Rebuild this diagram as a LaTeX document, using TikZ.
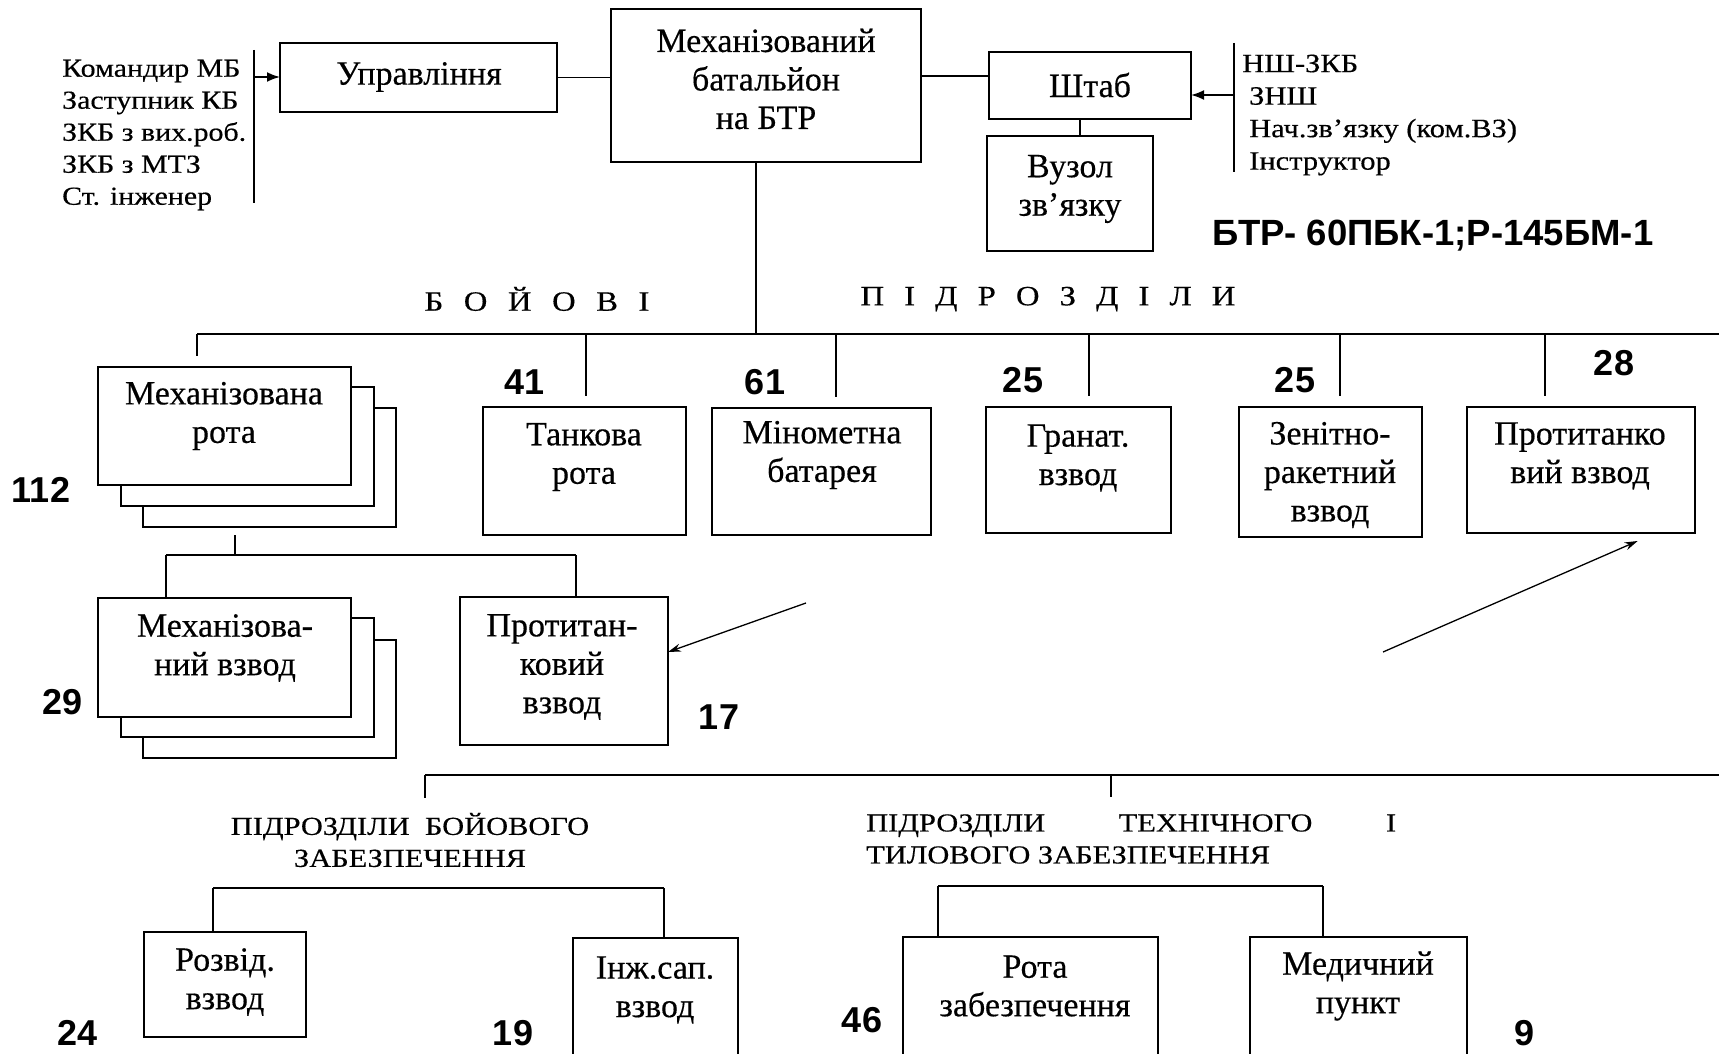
\documentclass[tikz,border=0pt]{standalone}
\usepackage{fontspec}
\setmainfont{Liberation Serif}[FakeBold=0.4]
\newfontfamily\listfont{Liberation Serif}[FakeStretch=1.15,FakeBold=0.4]
\newfontfamily\capsfont{Liberation Serif}[FakeStretch=1.17,FakeBold=0.3]
\newfontfamily\numfont{Liberation Sans}
\usetikzlibrary{arrows.meta,calc}
\newcommand\boxnode[5]{\node[box, anchor=north west, minimum width={#4-#2}, minimum height={#5-#3}] (#1) at (#2,#3) {};}
\begin{document}
\begin{tikzpicture}[x=1pt,y=-1pt,
  box/.style={draw, line width=2pt, fill=white, inner sep=0pt, outer sep=0pt},
  txt/.style={align=center, inner sep=0pt, font=\fontsize{34}{38.5}\selectfont},
  listtxt/.style={align=left, inner sep=0pt, font=\listfont\fontsize{26}{32}\selectfont},
  rlisttxt/.style={align=left, inner sep=0pt, font=\listfont\fontsize{26.5}{32.5}\selectfont},
  capstxt/.style={align=center, inner sep=0pt, font=\capsfont\fontsize{26}{32}\selectfont},
  spacedtxt/.style={inner sep=0pt, font=\capsfont\fontsize{28}{32}\selectfont},
  num/.style={inner sep=0pt, font=\numfont\bfseries\fontsize{36}{40}\selectfont},
  big/.style={inner sep=0pt, font=\numfont\bfseries\fontsize{36.5}{40}\selectfont},
  conn/.style={line width=1.8pt},
  drop/.style={conn, shorten >=11pt},
  arr/.style={line width=1.8pt, -{Latex[length=13pt,width=10pt]}},
  thinarr/.style={line width=1.3pt, -{Stealth[length=13pt,width=8pt]}}
]
\useasboundingbox (0,0) rectangle (1719,1054);
\fill[white] (0,0) rectangle (1719,1054);
\clip (0,0) rectangle (1719,1054);

% ---------- top ----------
\node[listtxt, anchor=west] (cmdlist) at (62,135) {Командир МБ\\Заступник КБ\\ЗКБ з вих.роб.\\ЗКБ з МТЗ\\Ст. інженер};
\coordinate (lbT) at (254,50); \coordinate (lbB) at (254,203); \coordinate (lbA) at (254,77);
\draw[conn] (lbT) -- (lbB);
\boxnode{upr}{280}{43}{557}{112}
\node[txt] (uprT) at (419,77) {Управління};
\draw[arr] (lbA) -- (lbA -| upr.west);

\boxnode{main}{611}{9}{921}{162}
\node[txt] (mainT) at (766,79) {Механізований\\батальйон\\на БТР};
\draw[conn] (upr.east) -- (upr.east -| main.west);

\boxnode{shtab}{989}{52}{1191}{119}
\node[txt] (shtabT) at (1090,85) {Штаб};
\coordinate (msy) at (0,76);
\draw[conn] (main.east |- msy) -- (shtab.west |- msy);

\boxnode{vuzol}{987}{136}{1153}{251}
\node[txt] (vuzolT) at (1070,189) {Вузол\\зв’язку};
\draw[conn] (shtab.south -| 1080,0) -- (vuzol.north -| 1080,0);

\coordinate (rbT) at (1234,43); \coordinate (rbB) at (1234,172); \coordinate (rbA) at (1234,95);
\draw[conn] (rbT) -- (rbB);
\draw[arr] (rbA) -- (rbA -| shtab.east);
\node[rlisttxt, anchor=west] (shlist) at (1249,115) {\hspace*{-7pt}НШ-ЗКБ\\ЗНШ\\Нач.зв’язку (ком.ВЗ)\\Інструктор};
\node[big] (btr) at (1433,236) {БТР- 60ПБК-1;Р-145БМ-1};

% ---------- combat units ----------
\coordinate (b1M) at (756,334);
\coordinate (b1L) at (197,334); \coordinate (b1R) at (1719,334);
\draw[conn] (main.south -| b1M) -- (b1M);
\draw[conn] (b1L) -- (b1R);
\node[spacedtxt] (boyovi) at (537,299) {\hbox to 225pt{Б\hfill О\hfill Й\hfill О\hfill В\hfill І}};
\node[spacedtxt] (pidr) at (1048,299) {\hbox to 375pt{П\hfill І\hfill Д\hfill Р\hfill О\hfill З\hfill Д\hfill І\hfill Л\hfill И}};

\boxnode{mrC}{143}{408}{396}{527}
\boxnode{mrB}{121}{387}{374}{506}
\boxnode{mrF}{98}{367}{351}{485}
\node[txt] (mrT) at (224,416) {Механізована\\рота};
\draw[drop] (b1L) -- (b1L |- mrF.north);
\node[num] (n112) at (41,490) {112};

\boxnode{tank}{483}{407}{686}{535}
\node[txt] (tankT) at (584,457) {Танкова\\рота};
\coordinate (d2) at (586,334);
\draw[drop] (d2) -- (d2 |- tank.north);
\node[num] (n41) at (525,382) {41};

\boxnode{mino}{712}{408}{931}{535}
\node[txt] (minoT) at (822,455) {Мінометна\\батарея};
\coordinate (d3) at (836,334);
\draw[drop] (d3) -- (d3 |- mino.north);
\node[num] (n61) at (765,382) {61};

\boxnode{gran}{986}{407}{1171}{533}
\node[txt] (granT) at (1078,458) {Гранат.\\взвод};
\coordinate (d4) at (1089,334);
\draw[drop] (d4) -- (d4 |- gran.north);
\node[num] (n25a) at (1023,380) {25};

\boxnode{zen}{1239}{407}{1422}{537}
\node[txt] (zenT) at (1330,475) {Зенітно-\\ракетний\\взвод};
\coordinate (d5) at (1340,334);
\draw[drop] (d5) -- (d5 |- zen.north);
\node[num] (n25b) at (1295,380) {25};

\boxnode{ptv}{1467}{407}{1695}{533}
\node[txt] (ptvT) at (1580,456) {Протитанко\\вий взвод};
\coordinate (d6) at (1545,334);
\draw[drop] (d6) -- (d6 |- ptv.north);
\node[num] (n28) at (1614,363) {28};

% ---------- platoons of the company ----------
\coordinate (br1M) at (235,555); \coordinate (br1L) at (166,555); \coordinate (br1R) at (576,555);
\draw[conn, shorten <=8pt] (mrC.south -| br1M) -- (br1M);
\draw[conn] (br1L) -- (br1R);
\boxnode{mvC}{143}{640}{396}{758}
\boxnode{mvB}{121}{618}{374}{737}
\boxnode{mvF}{98}{598}{351}{717}
\node[txt] (mvT) at (225,648) {Механізова-\\ний взвод};
\draw[conn] (br1L) -- (br1L |- mvF.north);
\boxnode{ptl}{460}{597}{668}{745}
\node[txt] (ptlT) at (562,667) {Протитан-\\ковий\\взвод};
\draw[conn] (br1R) -- (br1R |- ptl.north);
\node[num] (n29) at (63,702) {29};
\node[num] (n17) at (719,717) {17};
\coordinate (a1s) at (806,603);
\draw[thinarr] (a1s) -- (ptl.east |- 0,652);
\coordinate (a2s) at (1383,652);
\draw[thinarr, shorten >=20pt] (a2s) -- (ptv.south -| 1656,0);

% ---------- support ----------
\coordinate (b2L) at (425,775); \coordinate (b2R) at (1719,775);
\coordinate (t1) at (425,798); \coordinate (t2a) at (1111,775); \coordinate (t2b) at (1111,797);
\draw[conn] (b2L) -- (b2R);
\draw[conn] (b2L) -- (t1);
\draw[conn] (t2a) -- (t2b);
\node[capstxt] (lbz) at (410,840) {ПІДРОЗДІЛИ\ \ БОЙОВОГО\\ЗАБЕЗПЕЧЕННЯ};
\node[capstxt, align=left, anchor=west] (ltt) at (866,839) {\hbox to 530pt{ПІДРОЗДІЛИ\hfill ТЕХНІЧНОГО\hfill І}\\ТИЛОВОГО ЗАБЕЗПЕЧЕННЯ};

\coordinate (br3L) at (213,888); \coordinate (br3R) at (664,888);
\draw[conn] (br3L) -- (br3R);
\boxnode{rozv}{144}{932}{306}{1037}
\node[txt] (rozvT) at (225,982) {Розвід.\\взвод};
\boxnode{inzh}{573}{938}{738}{1080}
\node[txt] (inzhT) at (655,990) {Інж.сап.\\взвод};
\draw[conn] (br3L) -- (br3L |- rozv.north);
\draw[conn] (br3R) -- (br3R |- inzh.north);
\node[num] (n24) at (78,1033) {24};
\node[num] (n19) at (513,1033) {19};

\coordinate (br4L) at (938,886); \coordinate (br4R) at (1323,886);
\draw[conn] (br4L) -- (br4R);
\boxnode{rz}{903}{937}{1158}{1080}
\node[txt] (rzT) at (1035,986) {Рота\\забезпечення};
\boxnode{med}{1250}{937}{1467}{1080}
\node[txt] (medT) at (1358,986) {Медичний\\пункт};
\draw[conn] (br4L) -- (br4L |- rz.north);
\draw[conn] (br4R) -- (br4R |- med.north);
\node[num] (n46) at (862,1020) {46};
\node[num] (n9) at (1524,1033) {9};
\end{tikzpicture}
\end{document}
